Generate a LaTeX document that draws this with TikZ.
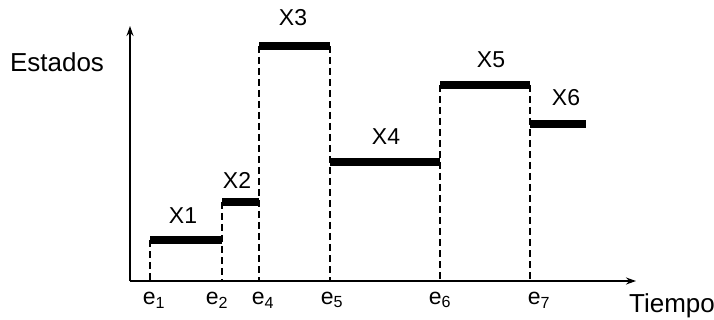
\documentclass[tikz,border=0pt]{standalone}
\usepackage{fontspec}
\setmainfont{Liberation Sans}
\usetikzlibrary{arrows.meta}
\begin{document}
\begin{tikzpicture}[x=1pt,y=-1pt,
  lbl/.style={font=\fontsize{23}{26}\selectfont, inner sep=0pt},
  big/.style={font=\fontsize{26}{30}\selectfont, inner sep=0pt},
  bar/.style={line width=8pt},
  guide/.style={line width=1.3pt, dash pattern=on 7pt off 4pt},
  axis/.style={line width=1.4pt, -{Stealth[length=10pt,width=7pt]}}]
\useasboundingbox (0,0) rectangle (714,320);
\coordinate (O) at (130,281);
\coordinate (Ytop) at (130,26);
\coordinate (Xend) at (636,281);
\draw[axis] (O) -- (Ytop);
\draw[axis] (O) -- (Xend);
% bars
\coordinate (a1) at (150,240); \coordinate (b1) at (222,240);
\coordinate (a2) at (222,202); \coordinate (b2) at (259,202);
\coordinate (a3) at (259,46);  \coordinate (b3) at (330,46);
\coordinate (a4) at (330,162); \coordinate (b4) at (440,162);
\coordinate (a5) at (440,85);  \coordinate (b5) at (530,85);
\coordinate (a6) at (530,124); \coordinate (b6) at (586,124);
\draw[bar] (a1) -- (b1);
\draw[bar] (a2) -- (b2);
\draw[bar] (a3) -- (b3);
\draw[bar] (a4) -- (b4);
\draw[bar] (a5) -- (b5);
\draw[bar] (a6) -- (b6);
% guides
\coordinate (g1) at (150,281); \coordinate (g2) at (222,281);
\coordinate (g4) at (259,281); \coordinate (g5) at (330,281);
\coordinate (g6) at (440,281); \coordinate (g7) at (530,281);
\draw[guide] (a1) -- (g1);
\draw[guide] (a2) -- (g2);
\draw[guide] (a3) -- (g4);
\draw[guide] (b3) -- (g5);
\draw[guide] (a5) -- (g6);
\draw[guide] (b5) -- (g7);
% labels
\node[lbl] (x1) at (183,216) {X1};
\node[lbl] (x2) at (237,180) {X2};
\node[lbl] (x3) at (293,18) {X3};
\node[lbl] (x4) at (386,137) {X4};
\node[lbl] (x5) at (491,60) {X5};
\node[lbl] (x6) at (566,98) {X6};
\node[lbl] (e1) at (154,300) {e\textsubscript{1}};
\node[lbl] (e2) at (217,300) {e\textsubscript{2}};
\node[lbl] (e4) at (263,300) {e\textsubscript{4}};
\node[lbl] (e5) at (332,300) {e\textsubscript{5}};
\node[lbl] (e6) at (440,300) {e\textsubscript{6}};
\node[lbl] (e7) at (539,300) {e\textsubscript{7}};
\node[big] (est) at (57,62) {Estados};
\node[big] (tie) at (672,306) {Tiempo};
\end{tikzpicture}
\end{document}
